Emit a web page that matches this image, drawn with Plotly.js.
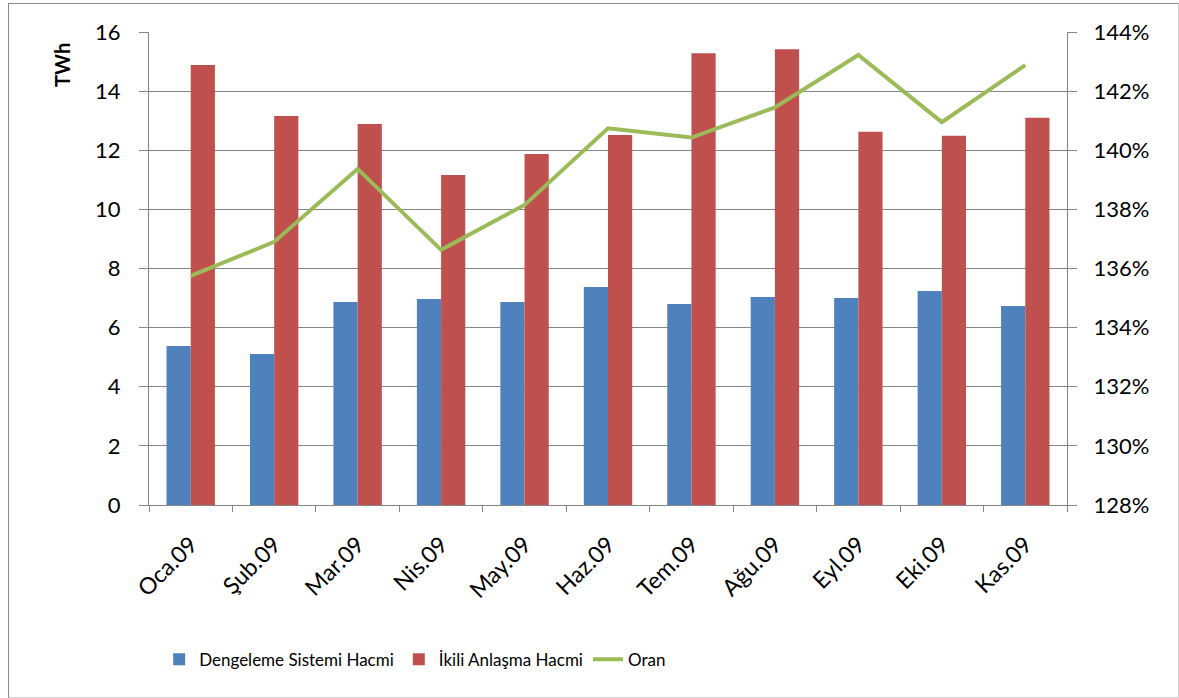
<!DOCTYPE html>
<html>
<head>
<meta charset="utf-8">
<script src="https://cdn.plot.ly/plotly-3.0.1.min.js"></script>
<style>
body{margin:0;padding:0;background:#fff;}
#chart{width:1179px;height:698px;}
#frame{position:absolute;left:8px;top:3px;width:1171px;height:695px;border-left:1.5px solid #8a8a8a;border-top:1.5px solid #8a8a8a;border-bottom:1.5px solid #d0d0d0;border-right:1.5px solid #d0d0d0;pointer-events:none;box-sizing:border-box;}
</style>
</head>
<body>
<div id="chart"></div>
<div id="frame"></div>
<script>
const categories = ["Oca.09","Şub.09","Mar.09","Nis.09","May.09","Haz.09","Tem.09","Ağu.09","Eyl.09","Eki.09","Kas.09"];
const dengeleme = [5.38,5.11,6.87,6.97,6.87,7.37,6.80,7.04,7.00,7.24,6.73];
const ikili = [14.88,13.16,12.89,11.16,11.87,12.52,15.28,15.42,12.63,12.49,13.10];
const oran = [135.75,136.9,139.37,136.63,138.15,140.74,140.43,141.45,143.22,140.95,142.88];
const leftTicks = [0,2,4,6,8,10,12,14,16];
const rightTicks = [128,130,132,134,136,138,140,142,144];

const font = "Lato, 'Open Sans', sans-serif";
const traces = [
  {type:'bar', name:'Dengeleme Sistemi Hacmi', x:categories, y:dengeleme, marker:{color:'#4F81BD'}},
  {type:'bar', name:'İkili Anlaşma Hacmi', x:categories, y:ikili, marker:{color:'#C0504D'}},
  {type:'scatter', mode:'lines', name:'Oran', x:categories, y:oran, yaxis:'y2', line:{color:'#9BBB59', width:4}}
];
const layout = {
  width:1179, height:698,
  margin:{l:149, r:112, t:32, b:193},
  paper_bgcolor:'#fff', plot_bgcolor:'#fff',
  barmode:'group', bargap:0.42, bargroupgap:0,
  font:{family:font, size:18, color:'#000'},
  showlegend:true,
  legend:{orientation:'h', xref:'container', yref:'container', x:0.135, xanchor:'left', y:0.055, yanchor:'middle',
          font:{size:17, family:font}, traceorder:'normal', itemwidth:30},
  xaxis:{type:'category', tickangle:-45, ticks:'outside', tickson:'boundaries', ticklen:6, tickcolor:'#868686', automargin:false,
         ticklabelstandoff:16, showline:true, linecolor:'#868686', linewidth:1, showgrid:false, tickfont:{size:23}},
  yaxis:{range:[0,16], tickvals:leftTicks, ticktext:leftTicks.map(String), ticks:'outside', ticklen:9, tickcolor:'#868686', automargin:false,
         ticklabelstandoff:14, showline:true, linecolor:'#868686', gridcolor:'#868686', gridwidth:1, zeroline:false, tickfont:{size:22}},
  yaxis2:{range:[128,144], overlaying:'y', side:'right', tickvals:rightTicks, ticktext:rightTicks.map(v=>v+'%'), automargin:false,
          ticklabelstandoff:12, ticks:'outside', ticklen:9, tickcolor:'#868686', showline:true, linecolor:'#868686', showgrid:false, zeroline:false, tickfont:{size:22}},
  annotations:[{text:'<b>TWh</b>', xref:'paper', yref:'paper', x:-0.095, y:0.93, textangle:-90, showarrow:false, font:{size:20}, xanchor:'center', yanchor:'middle'}]
};
Plotly.newPlot('chart', traces, layout, {displayModeBar:false, staticPlot:true});
</script>
</body>
</html>
